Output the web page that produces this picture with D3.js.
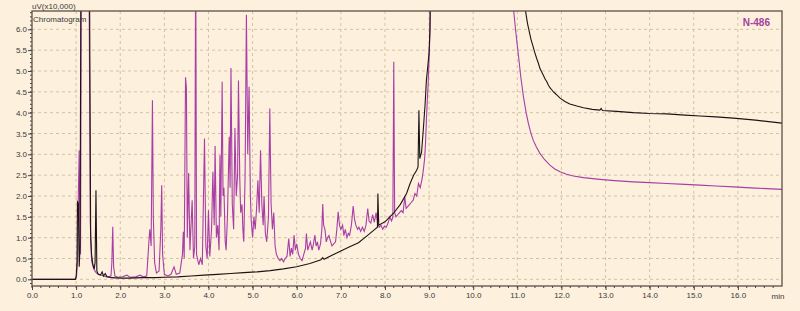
<!DOCTYPE html>
<html>
<head>
<meta charset="utf-8">
<script src="https://d3js.org/d3.v7.min.js"></script>
<style>
    body { margin: 0; background: #fdf0dd; }
    #chart-area { width: 800px; height: 311px; }
    .tick-label { font-family: "Liberation Sans", Arial, sans-serif; font-size: 8px; fill: #3a3a3a; }
</style>
</head>
<body>
<div id="chart-area"></div>
<script>

// retention time (min) / intensity (uV x10,000)
// values above the top of the axis are detector peaks that run off scale
let magentaTime = [0.00, 0.98, 1.01, 1.03, 1.05, 1.07, 1.08, 1.10, 1.12, 1.29, 1.32, 1.35, 1.40, 1.46, 1.52, 1.58, 1.65, 1.72, 1.79, 1.81,
    1.83, 1.85, 1.88, 1.95, 2.05, 2.15, 2.22, 2.35, 2.45, 2.52, 2.60, 2.65, 2.67, 2.70, 2.73, 2.75, 2.78, 2.82, 2.88, 2.92,
    2.94, 2.96, 3.00, 3.08, 3.15, 3.22, 3.27, 3.35, 3.41, 3.43, 3.45, 3.48, 3.50, 3.52, 3.55, 3.58, 3.63, 3.66, 3.69, 3.71,
    3.73, 3.78, 3.82, 3.86, 3.91, 3.94, 3.97, 4.00, 4.03, 4.07, 4.10, 4.13, 4.15, 4.18, 4.21, 4.24, 4.26, 4.28, 4.31, 4.33,
    4.35, 4.38, 4.40, 4.43, 4.47, 4.49, 4.51, 4.54, 4.57, 4.60, 4.63, 4.66, 4.68, 4.71, 4.73, 4.76, 4.78, 4.80, 4.83, 4.86,
    4.89, 4.92, 4.95, 4.97, 5.00, 5.03, 5.06, 5.09, 5.12, 5.15, 5.18, 5.21, 5.24, 5.26, 5.29, 5.32, 5.36, 5.39, 5.42, 5.45,
    5.48, 5.51, 5.54, 5.58, 5.62, 5.66, 5.70, 5.74, 5.78, 5.82, 5.85, 5.88, 5.91, 5.94, 5.97, 6.00, 6.04, 6.08, 6.12, 6.16,
    6.20, 6.22, 6.25, 6.28, 6.31, 6.35, 6.38, 6.41, 6.44, 6.47, 6.50, 6.54, 6.57, 6.59, 6.61, 6.64, 6.67, 6.70, 6.73, 6.77,
    6.80, 6.84, 6.88, 6.91, 6.94, 6.97, 7.00, 7.04, 7.07, 7.10, 7.14, 7.17, 7.20, 7.24, 7.28, 7.31, 7.34, 7.38, 7.41, 7.45,
    7.49, 7.53, 7.57, 7.61, 7.64, 7.68, 7.72, 7.76, 7.80, 7.83, 7.87, 7.91, 7.95, 7.99, 8.03, 8.07, 8.11, 8.15, 8.18, 8.20,
    8.22, 8.25, 8.29, 8.33, 8.37, 8.41, 8.45, 8.48, 8.52, 8.56, 8.60, 8.64, 8.68, 8.72, 8.76, 8.80, 8.84, 8.87, 8.90, 8.92,
    8.94, 8.96, 8.98, 9.00, 9.02, 9.05, 10.90, 10.92, 10.97, 11.02, 11.08, 11.14, 11.20, 11.25, 11.30, 11.36, 11.43, 11.51, 11.62, 11.74,
    11.85, 11.97, 12.10, 12.27, 12.50, 12.87, 13.20, 13.63, 14.00, 14.39, 14.80, 15.14, 15.50, 15.90, 16.40, 17.00];

let magentaValue = [0.00, 0.00, 0.08, 0.45, 2.00, 3.10, 1.80, 0.60, 8.00, 8.00, 1.40, 0.45, 0.25, 0.15, 0.12, 0.10, 0.07, 0.06, 0.08, 0.40,
    1.26, 0.30, 0.08, 0.05, 0.06, 0.10, 0.05, 0.06, 0.10, 0.06, 0.08, 0.90, 1.20, 0.80, 4.30, 1.50, 0.40, 0.15, 0.20, 1.20,
    2.26, 0.60, 0.12, 0.08, 0.12, 0.30, 0.12, 0.15, 0.60, 1.14, 0.50, 4.85, 4.60, 1.00, 2.55, 0.70, 1.90, 0.50, 0.80, 8.00,
    0.60, 0.35, 0.50, 0.35, 3.38, 0.80, 0.50, 1.66, 0.55, 1.20, 2.58, 1.30, 3.20, 1.00, 1.30, 0.70, 2.98, 1.50, 4.74, 2.00,
    2.20, 0.90, 0.70, 1.50, 3.42, 2.20, 5.07, 1.80, 1.20, 3.63, 2.00, 2.50, 4.77, 2.40, 1.60, 1.80, 1.20, 0.90, 2.50, 6.35,
    3.00, 4.62, 2.00, 1.40, 1.00, 1.50, 1.20, 1.70, 2.38, 1.60, 3.10, 1.80, 1.30, 2.00, 1.10, 0.90, 1.50, 4.10, 1.80, 1.20,
    1.60, 0.80, 0.60, 0.50, 0.45, 0.50, 0.42, 0.50, 0.55, 0.98, 0.55, 0.75, 0.60, 1.06, 0.70, 0.85, 0.60, 0.50, 0.45, 0.60,
    0.75, 1.10, 0.70, 0.80, 0.90, 0.70, 0.85, 1.06, 0.80, 0.90, 0.70, 0.85, 1.20, 1.81, 1.30, 1.20, 0.90, 1.00, 1.05, 0.90,
    0.80, 0.85, 0.90, 1.20, 1.62, 1.30, 1.20, 1.30, 1.05, 1.20, 1.00, 1.10, 1.06, 1.30, 1.76, 1.45, 1.30, 1.20, 1.25, 1.15,
    1.25, 1.15, 1.30, 1.70, 1.40, 1.35, 1.55, 1.37, 1.60, 1.35, 1.25, 1.30, 1.20, 1.28, 1.25, 1.35, 1.50, 1.40, 1.50, 5.22,
    1.60, 1.50, 1.55, 1.60, 1.65, 1.60, 1.98, 1.70, 1.75, 1.80, 1.85, 1.90, 2.06, 2.00, 2.30, 2.20, 2.40, 2.62, 2.90, 3.27,
    3.82, 4.30, 4.70, 5.30, 5.90, 8.00, 8.00, 6.42, 5.90, 5.43, 4.85, 4.38, 4.00, 3.75, 3.54, 3.34, 3.18, 3.03, 2.87, 2.74,
    2.65, 2.58, 2.53, 2.48, 2.44, 2.40, 2.37, 2.34, 2.32, 2.30, 2.28, 2.26, 2.24, 2.22, 2.19, 2.16];

let blackTime = [0.00, 0.98, 1.00, 1.02, 1.03, 1.05, 1.07, 1.09, 1.11, 1.30, 1.33, 1.35, 1.38, 1.41, 1.43, 1.45, 1.47, 1.50, 1.55, 1.59,
    1.62, 1.66, 1.70, 1.80, 2.00, 2.20, 2.50, 2.80, 3.00, 3.30, 3.60, 3.90, 4.20, 4.50, 4.80, 5.10, 5.40, 5.70, 6.00, 6.30,
    6.55, 6.59, 6.62, 6.80, 7.00, 7.20, 7.40, 7.60, 7.77, 7.83, 7.84, 7.86, 8.00, 8.19, 8.35, 8.49, 8.57, 8.65, 8.72, 8.75,
    8.77, 8.79, 8.83, 8.87, 8.91, 8.94, 8.97, 9.00, 9.02, 9.04, 11.17, 11.19, 11.23, 11.27, 11.31, 11.36, 11.40, 11.44, 11.48, 11.51,
    11.55, 11.59, 11.63, 11.67, 11.70, 11.74, 11.78, 11.82, 11.86, 11.90, 11.97, 12.08, 12.19, 12.35, 12.50, 12.70, 12.87, 12.90, 12.93, 13.25,
    13.63, 14.00, 14.39, 14.80, 15.14, 15.50, 15.90, 16.40, 17.00];

let blackValue = [0.00, 0.00, 0.05, 0.40, 1.86, 1.83, 0.30, 0.80, 8.00, 8.00, 1.00, 0.60, 0.35, 0.25, 0.40, 2.14, 0.20, 0.12, 0.10, 0.18,
    0.08, 0.14, 0.06, 0.04, 0.03, 0.03, 0.04, 0.04, 0.05, 0.06, 0.08, 0.10, 0.12, 0.14, 0.16, 0.18, 0.21, 0.25, 0.30, 0.38,
    0.47, 0.52, 0.48, 0.58, 0.68, 0.78, 0.88, 1.05, 1.20, 1.25, 2.06, 1.30, 1.38, 1.58, 1.80, 2.06, 2.30, 2.50, 2.62, 2.70,
    4.06, 2.90, 3.05, 3.60, 4.20, 4.78, 5.10, 5.43, 6.00, 8.00, 8.00, 6.42, 6.15, 5.95, 5.76, 5.58, 5.43, 5.30, 5.18, 5.07,
    4.98, 4.90, 4.81, 4.74, 4.67, 4.60, 4.55, 4.50, 4.46, 4.42, 4.35, 4.27, 4.21, 4.16, 4.12, 4.08, 4.06, 4.10, 4.05, 4.03,
    4.00, 3.98, 3.97, 3.94, 3.92, 3.90, 3.87, 3.82, 3.75];

let yTicks = [0, 0.5, 1, 1.5, 2, 2.5, 3, 3.5, 4, 4.5, 5, 5.5, 6];
let xTicks = [0, 1, 2, 3, 4, 5, 6, 7, 8, 9, 10, 11, 12, 13, 14, 15, 16];

let sampleName = "N-486";
let yUnit = "uV(x10,000)";
let xUnit = "min";
let panelTitle = "Chromatogram";


class Chromatogram {

    constructor(_parentElement) {
        this.parentElement = _parentElement;
        this.initVis();
    }

    initVis() {
        var vis = this;

        vis.margin = { top: 11, right: 18, bottom: 25, left: 32 };
        vis.width = 800 - vis.margin.left - vis.margin.right;
        vis.height = 311 - vis.margin.top - vis.margin.bottom;

        vis.root = d3.select("#" + vis.parentElement).append("svg")
            .attr("width", 800)
            .attr("height", 311);

        vis.root.append("rect")
            .attr("width", 800).attr("height", 311)
            .attr("fill", "#fdf0dd");

        vis.svg = vis.root.append("g")
            .attr("transform", "translate(" + vis.margin.left + "," + vis.margin.top + ")");

        vis.svg.append("clipPath").attr("id", "plot-clip")
            .append("rect")
            .attr("width", vis.width)
            .attr("height", vis.height);

        // Scales
        vis.x = d3.scaleLinear().domain([0, 17]).range([0, vis.width]);
        vis.y = d3.scaleLinear().domain([-0.16, 6.44]).range([vis.height, 0]);

        // grid
        vis.svg.append("g").selectAll("line.vgrid")
            .data(xTicks.filter(d => d > 0))
            .enter().append("line")
            .attr("x1", d => vis.x(d)).attr("x2", d => vis.x(d))
            .attr("y1", 0).attr("y2", vis.height)
            .attr("stroke", "#d3c3a6")
            .attr("stroke-dasharray", "3,3");

        vis.svg.append("g").selectAll("line.hgrid")
            .data(yTicks)
            .enter().append("line")
            .attr("x1", 0).attr("x2", vis.width)
            .attr("y1", d => vis.y(d)).attr("y2", d => vis.y(d))
            .attr("stroke", "#d3c3a6")
            .attr("stroke-dasharray", "3,3");

        vis.wrangleData();
    }

    wrangleData() {
        var vis = this;

        vis.magenta = magentaTime.map((t, i) => ({ t: t, v: magentaValue[i] }));
        vis.black = blackTime.map((t, i) => ({ t: t, v: blackValue[i] }));

        vis.updateVis();
    }

    updateVis() {
        let vis = this;

        let line = d3.line()
            .x(d => vis.x(d.t))
            .y(d => vis.y(d.v));

        let traces = vis.svg.append("g").attr("clip-path", "url(#plot-clip)");

        traces.append("path")
            .datum(vis.magenta)
            .attr("fill", "none")
            .attr("stroke", "#a83ea6")
            .attr("stroke-width", 1.1)
            .attr("d", line);

        traces.append("path")
            .datum(vis.black)
            .attr("fill", "none")
            .attr("stroke", "#1c1414")
            .attr("stroke-width", 1.1)
            .attr("d", line);

        // minor ticks
        let minorX = d3.range(0, 85).map(i => i * 0.2).filter(d => d <= 17);
        vis.svg.append("g").selectAll("line")
            .data(minorX)
            .enter().append("line")
            .attr("x1", d => vis.x(d)).attr("x2", d => vis.x(d))
            .attr("y1", vis.height).attr("y2", vis.height + 2)
            .attr("stroke", "#4a4040");

        let minorY = d3.range(-1, 65).map(i => i * 0.1);
        vis.svg.append("g").selectAll("line")
            .data(minorY)
            .enter().append("line")
            .attr("x1", -2).attr("x2", 0)
            .attr("y1", d => vis.y(d)).attr("y2", d => vis.y(d))
            .attr("stroke", "#4a4040");

        // axes
        let xAxis = d3.axisBottom(vis.x).tickValues(xTicks)
            .tickFormat(d3.format(".1f")).tickSize(4).tickPadding(2);
        let yAxis = d3.axisLeft(vis.y).tickValues(yTicks)
            .tickFormat(d3.format(".1f")).tickSize(4).tickPadding(1);

        let gx = vis.svg.append("g")
            .attr("transform", "translate(0," + vis.height + ")")
            .call(xAxis);
        let gy = vis.svg.append("g").call(yAxis);

        [gx, gy].forEach(g => {
            g.select(".domain").remove();
            g.selectAll(".tick line").attr("stroke", "#4a4040");
            g.selectAll("text").attr("class", "tick-label").attr("fill", null);
        });

        // frame
        vis.svg.append("rect")
            .attr("width", vis.width).attr("height", vis.height)
            .attr("fill", "none")
            .attr("stroke", "#5e5048")
            .attr("stroke-width", 1.3);

        // texts
        vis.svg.append("text")
            .attr("class", "tick-label")
            .attr("x", vis.width - 4)
            .attr("y", vis.height + 13)
            .attr("text-anchor", "middle")
            .text(xUnit);

        vis.svg.append("text")
            .attr("class", "tick-label")
            .attr("x", 0)
            .attr("y", -2)
            .text(yUnit);

        vis.svg.append("text")
            .attr("class", "tick-label")
            .attr("x", 1)
            .attr("y", 11)
            .text(panelTitle);

        vis.svg.append("text")
            .attr("x", vis.width - 12)
            .attr("y", 15)
            .attr("text-anchor", "end")
            .style("font-family", "Liberation Sans, Arial, sans-serif")
            .style("font-size", "10px")
            .style("font-weight", "bold")
            .attr("fill", "#a2449c")
            .text(sampleName);
    }
}

new Chromatogram("chart-area");

</script>
</body>
</html>
